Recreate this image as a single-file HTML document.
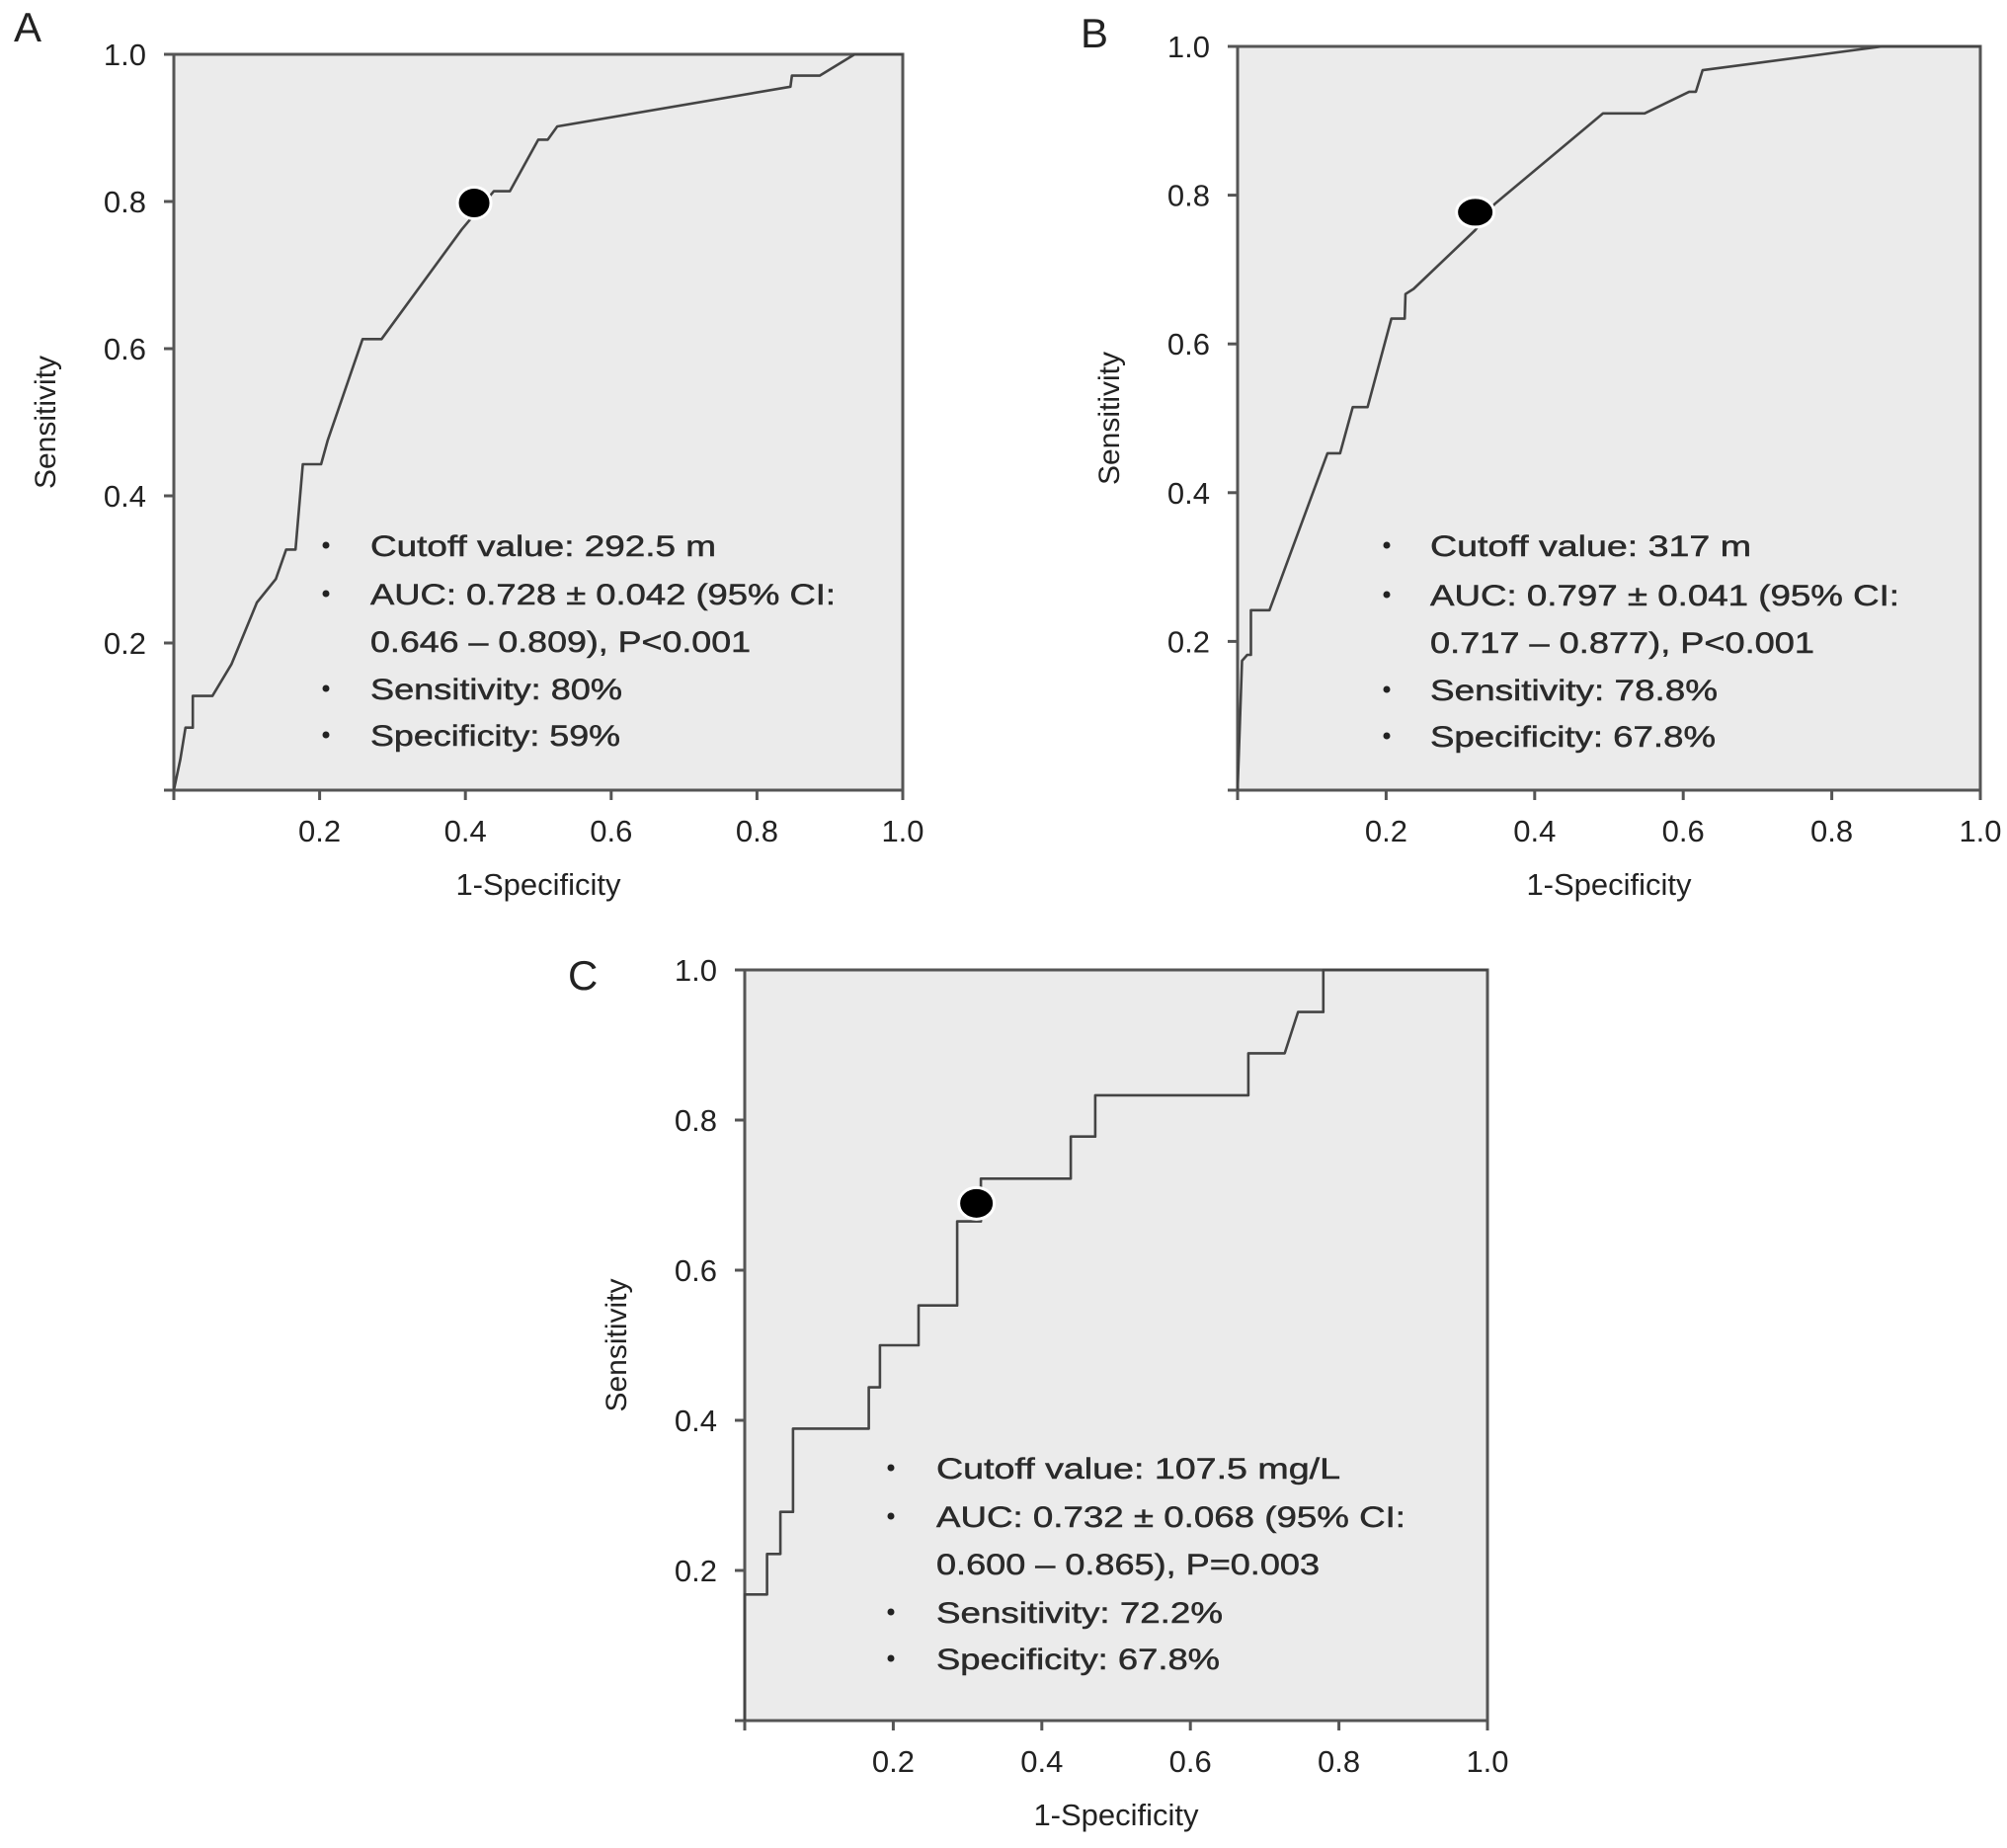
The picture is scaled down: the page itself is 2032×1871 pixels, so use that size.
<!DOCTYPE html>
<html><head><meta charset="utf-8">
<style>
html,body{margin:0;padding:0;background:#fff;}
svg{display:block;}
text{font-family:"Liberation Sans",sans-serif;fill:#222;}
.ann{font-family:"Liberation Sans",sans-serif;font-size:30px;fill:#2a2a2a;stroke:#2a2a2a;stroke-width:0.5px;}
</style></head>
<body>
<svg id="fig" width="2032" height="1871" viewBox="0 0 2032 1871" xmlns="http://www.w3.org/2000/svg"></svg>
<script>
// Panel A data
const aFpr = [0,0.009,0.016,0.026,0.026,0.053,0.079,0.114,0.140,0.154,0.167,0.177,0.202,0.211,0.259,0.285,0.395,0.439,0.461,0.500,0.513,0.526,0.846,0.848,0.886,0.934,1];
const aTpr = [0,0.042,0.085,0.085,0.128,0.128,0.171,0.255,0.287,0.327,0.327,0.443,0.443,0.475,0.613,0.613,0.762,0.814,0.814,0.884,0.884,0.902,0.956,0.971,0.971,1,1];
const aCut = [0.412,0.798];
// Panel B data
const bFpr = [0,0.006,0.013,0.018,0.018,0.043,0.121,0.138,0.155,0.175,0.207,0.225,0.226,0.237,0.320,0.346,0.492,0.548,0.608,0.617,0.626,0.868,1];
const bTpr = [0,0.174,0.182,0.182,0.242,0.242,0.453,0.453,0.515,0.515,0.634,0.634,0.667,0.674,0.753,0.788,0.910,0.910,0.939,0.939,0.968,1,1];
const bCut = [0.320,0.777];
// Panel C data
const cFpr = [0,0,0.030,0.030,0.048,0.048,0.065,0.065,0.167,0.167,0.182,0.182,0.234,0.234,0.286,0.286,0.318,0.318,0.439,0.439,0.472,0.472,0.678,0.678,0.727,0.745,0.779,0.779,1];
const cTpr = [0,0.168,0.168,0.222,0.222,0.278,0.278,0.389,0.389,0.444,0.444,0.5,0.5,0.553,0.553,0.665,0.665,0.722,0.722,0.778,0.778,0.833,0.833,0.889,0.889,0.944,0.944,1,1];
const cCut = [0.312,0.689];
const tickVals = [0.2,0.4,0.6,0.8,1.0];
const tickLabels = ["0.2","0.4","0.6","0.8","1.0"];
const aText = ["Cutoff value: 292.5 m","AUC: 0.728 \u00b1 0.042 (95% CI:","0.646 \u2013 0.809), P<0.001","Sensitivity: 80%","Specificity: 59%"];
const bText = ["Cutoff value: 317 m","AUC: 0.797 \u00b1 0.041 (95% CI:","0.717 \u2013 0.877), P<0.001","Sensitivity: 78.8%","Specificity: 67.8%"];
const cText = ["Cutoff value: 107.5 mg/L","AUC: 0.732 \u00b1 0.068 (95% CI:","0.600 \u2013 0.865), P=0.003","Sensitivity: 72.2%","Specificity: 67.8%"];

const NS="http://www.w3.org/2000/svg";
const svg=document.getElementById('fig');
function mk(tag,attrs,parent){const e=document.createElementNS(NS,tag);for(const k in attrs)e.setAttribute(k,attrs[k]);(parent||svg).appendChild(e);return e;}

const panels=[
 {id:'a',letter:'A',lx:14,ly:42,x0:176,x1:914,y0:55,y1:800,fpr:aFpr,tpr:aTpr,cut:aCut,rx:17,ry:16,text:aText,bx:330,tx:375,base:[563,612,660,708,755],w:[350,471,385,255,253]},
 {id:'b',letter:'B',lx:1094,ly:48,x0:1253,x1:2005,y0:47,y1:800,fpr:bFpr,tpr:bTpr,cut:bCut,rx:19,ry:15,text:bText,bx:1404,tx:1448,base:[563,613,661,709,756],w:[325,475,389,291,289]},
 {id:'c',letter:'C',lx:575,ly:1002,x0:754,x1:1506,y0:982,y1:1742,fpr:cFpr,tpr:cTpr,cut:cCut,rx:18,ry:16,text:cText,bx:902,tx:948,base:[1497,1546,1594,1643,1690],w:[409,475,388,290,287]}
];

panels.forEach(p=>{
  const g=mk('g',{});
  
  
  const sx=v=>p.x0+v*(p.x1-p.x0);
  const sy=v=>p.y1-v*(p.y1-p.y0);
  const bg=mk('rect',{x:p.x0,y:p.y0,width:p.x1-p.x0,height:p.y1-p.y0,fill:'#ebebeb',stroke:'#555',"stroke-width":3},g);
  
  
  const lt=mk('text',{x:p.lx,y:p.ly,"font-size":42},g);
  lt.textContent=p.letter;
  
  
  [0].concat(tickVals).forEach(v=>{
    mk('line',{x1:p.x0-10,x2:p.x0,y1:sy(v),y2:sy(v),stroke:'#555',"stroke-width":3},g);
    mk('line',{x1:sx(v),x2:sx(v),y1:p.y1,y2:p.y1+10,stroke:'#555',"stroke-width":3},g);
  });
  tickVals.forEach((v,i)=>{
    const ty=mk('text',{x:p.x0-28,y:sy(v)+11,"font-size":31,"text-anchor":"end"},g);
    ty.textContent=tickLabels[i];
    
    
    const tx=mk('text',{x:sx(v),y:p.y1+52,"font-size":31,"text-anchor":"middle"},g);
    tx.textContent=tickLabels[i];
    
    
  });
  const xt=mk('text',{x:(p.x0+p.x1)/2,y:p.y1+106,"font-size":31,"text-anchor":"middle"},g);
  xt.textContent='1-Specificity';
  
  
  const yx=p.x0-120, yy=(p.y0+p.y1)/2;
  const yt=mk('text',{x:yx,y:yy,"font-size":30,"text-anchor":"middle",transform:`rotate(-90 ${yx} ${yy})`},g);
  yt.textContent='Sensitivity';
  
  
  let d='';
  p.fpr.forEach((v,i)=>{d+=(i?'L':'M')+sx(v).toFixed(1)+' '+sy(p.tpr[i]).toFixed(1)+' ';});
  const path=mk('path',{d:d,fill:'none',stroke:'#444',"stroke-width":2.6,"stroke-linejoin":"round"},g);
  
  
  const dot=mk('ellipse',{cx:sx(p.cut[0]),cy:sy(p.cut[1]),rx:p.rx,ry:p.ry,fill:'#000',stroke:'#fff',"stroke-width":3},g);
  
  
  p.text.forEach((s,i)=>{
    if(i!==2){
      const b=mk('circle',{cx:p.bx,cy:p.base[i]-11,r:3.5,fill:'#222'},g);
      
      
    }
    const t=mk('text',{x:p.tx,y:p.base[i],class:'ann',textLength:p.w[i],lengthAdjust:'spacingAndGlyphs'},g);
    t.textContent=s;
    
    
  });
});
</script>
</body></html>
